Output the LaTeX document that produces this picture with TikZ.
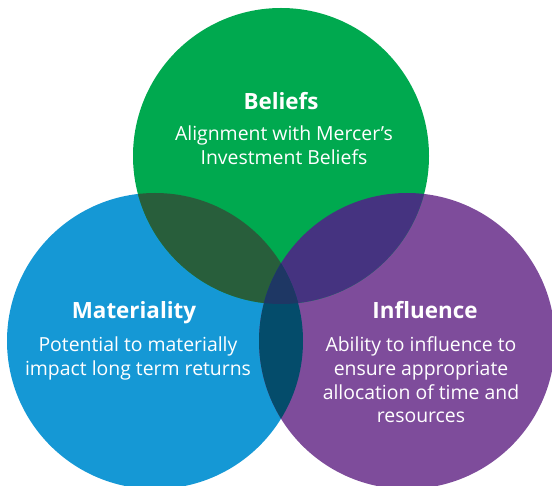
\documentclass[tikz,border=0pt]{standalone}
\usepackage{fontspec}
\setmainfont{Open Sans}
\definecolor{beliefsgreen}{HTML}{00A94F}
\definecolor{materialblue}{HTML}{1598D5}
\definecolor{influencepurple}{HTML}{7E4C9B}
\definecolor{greenblue}{HTML}{285E3B}
\definecolor{greenpurple}{HTML}{453380}
\definecolor{bluepurple}{HTML}{044C6B}
\definecolor{allthree}{HTML}{1E3764}
\begin{document}
\begin{tikzpicture}[x=1pt,y=-1pt,
  title/.style={text=white,font=\fontsize{22.4}{26}\selectfont\bfseries,anchor=base},
  body/.style={text=white,font=\fontsize{19.4}{23.8}\selectfont,align=center,anchor=north,inner sep=0pt}]
\useasboundingbox (0,0) rectangle (552,486);
\clip (0,0) rectangle (552,486);
\coordinate (G) at (281,156);
\coordinate (B) at (155,341);
\coordinate (P) at (407,341);
\def\rad{148}
% base discs
\fill[materialblue] (B) circle[radius=\rad];
\fill[influencepurple] (P) circle[radius=\rad];
\fill[beliefsgreen] (G) circle[radius=\rad];
% pairwise overlaps
\begin{scope}
  \clip (G) circle[radius=\rad];
  \fill[greenblue] (B) circle[radius=\rad];
  \fill[greenpurple] (P) circle[radius=\rad];
\end{scope}
\begin{scope}
  \clip (B) circle[radius=\rad];
  \fill[bluepurple] (P) circle[radius=\rad];
\end{scope}
% centre, inside all three
\begin{scope}
  \clip (G) circle[radius=\rad];
  \clip (B) circle[radius=\rad];
  \fill[allthree] (P) circle[radius=\rad];
\end{scope}
% labels
\node[title] (beliefs) at (281,110) {Beliefs};
\node[body] (beliefstext) at (284,125.5) {Alignment with Mercer’s\\Investment Beliefs};
\node[title] (materiality) at (134,319) {Materiality};
\node[body] (materialitytext) at (138,336.5) {Potential to materially\\impact long term returns};
\node[title] (influence) at (425,319) {Influence};
\node[body] (influencetext) at (421,336.5) {Ability to influence to\\ensure appropriate\\allocation of time and\\resources};
\end{tikzpicture}
\end{document}
